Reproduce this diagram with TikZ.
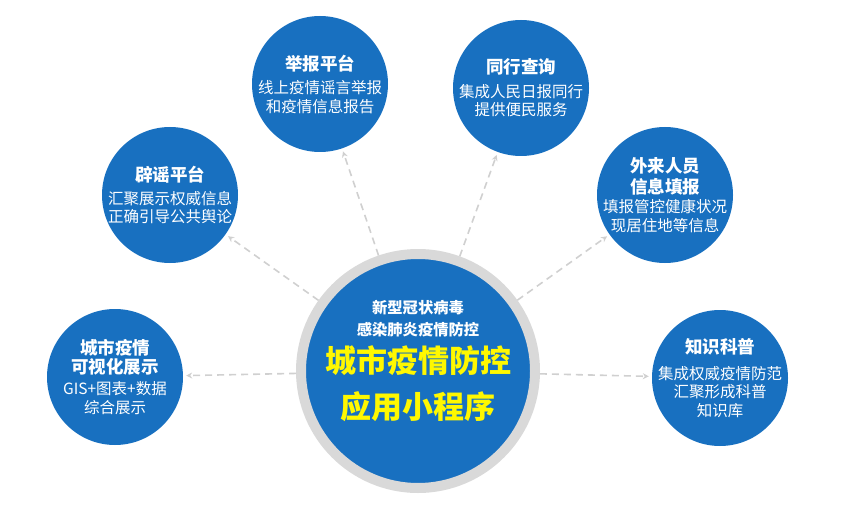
\documentclass[tikz,border=0pt]{standalone}
\usepackage{fontspec}
\setmainfont{Noto Sans CJK SC}
\usepackage{xcolor}
\usepackage{tikz}
\usetikzlibrary{arrows.meta}

\definecolor{discblue}{RGB}{24,112,192}
\definecolor{ringgray}{RGB}{217,217,217}
\definecolor{dashgray}{RGB}{208,208,208}
\definecolor{hubyellow}{RGB}{255,248,0}

\newcommand{\sattitle}[1]{{\bfseries\fontsize{17.5}{21}\selectfont #1}}

\begin{document}
\begin{tikzpicture}[
    x=1pt, y=-1pt,
    sat/.style={circle, fill=discblue, minimum size=136pt, inner sep=0pt},
    hub/.style={circle, fill=discblue, draw=ringgray, line width=10pt,
                minimum size=234pt, inner sep=0pt},
    sattext/.style={text=white, align=center, font=\fontsize{15.5}{18.5}\selectfont},
    hubtext/.style={align=center, font=\bfseries\fontsize{15.3}{22}\selectfont},
    link/.style={-{Stealth[length=6pt, width=6pt]}, draw=dashgray, line width=1.6pt,
                 dash pattern=on 7pt off 5pt, shorten >=3pt},
]
\useasboundingbox (0,0) rectangle (865,524);

% Hub
\node[hub] (hub) at (418,371) {};
\node[hubtext, yshift=10pt] (hubtxt) at (hub) {%
    {\color{white}新型冠状病毒}\\
    {\color{white}感染肺炎疫情防控}\\[8pt]
    {\color{hubyellow}\fontsize{31}{45}\selectfont 城市疫情防控}\\[15pt]
    {\color{hubyellow}\fontsize{31}{45}\selectfont 应用小程序}};

% Satellites
\node[sat] (visual) at (115,377) {};
\node[sat] (rumor)  at (170,195) {};
\node[sat] (report) at (320,84)  {};
\node[sat] (travel) at (521,88)  {};
\node[sat] (incoming) at (665,195) {};
\node[sat] (science) at (720,378) {};

% Satellite texts
\node[sattext] (visualtxt) at (visual) {\sattitle{城市疫情}\\[1pt]\sattitle{可视化展示}\\[2pt]
    GIS+图表+数据\\[1pt]综合展示};
\node[sattext] (rumortxt) at (rumor) {\sattitle{辟谣平台}\\[4pt]汇聚展示权威信息\\正确引导公共舆论};
\node[sattext] (reporttxt) at (report) {\sattitle{举报平台}\\[5pt]线上疫情谣言举报\\和疫情信息报告};
\node[sattext] (traveltxt) at (travel) {\sattitle{同行查询}\\[5pt]集成人民日报同行\\提供便民服务};
\node[sattext] (incomingtxt) at (incoming) {\sattitle{外来人员}\\[2pt]\sattitle{信息填报}\\[1pt]
    填报管控健康状况\\现居住地等信息};
\node[sattext] (sciencetxt) at (science) {\sattitle{知识科普}\\[7pt]集成权威疫情防范\\汇聚形成科普\\知识库};

% Arrows
\draw[link] (hub) -- (visual);
\draw[link] (hub) -- (rumor);
\draw[link] (hub) -- (report);
\draw[link] (hub) -- (travel);
\draw[link] (hub) -- (incoming);
\draw[link] (hub) -- (science);
\end{tikzpicture}
\end{document}
